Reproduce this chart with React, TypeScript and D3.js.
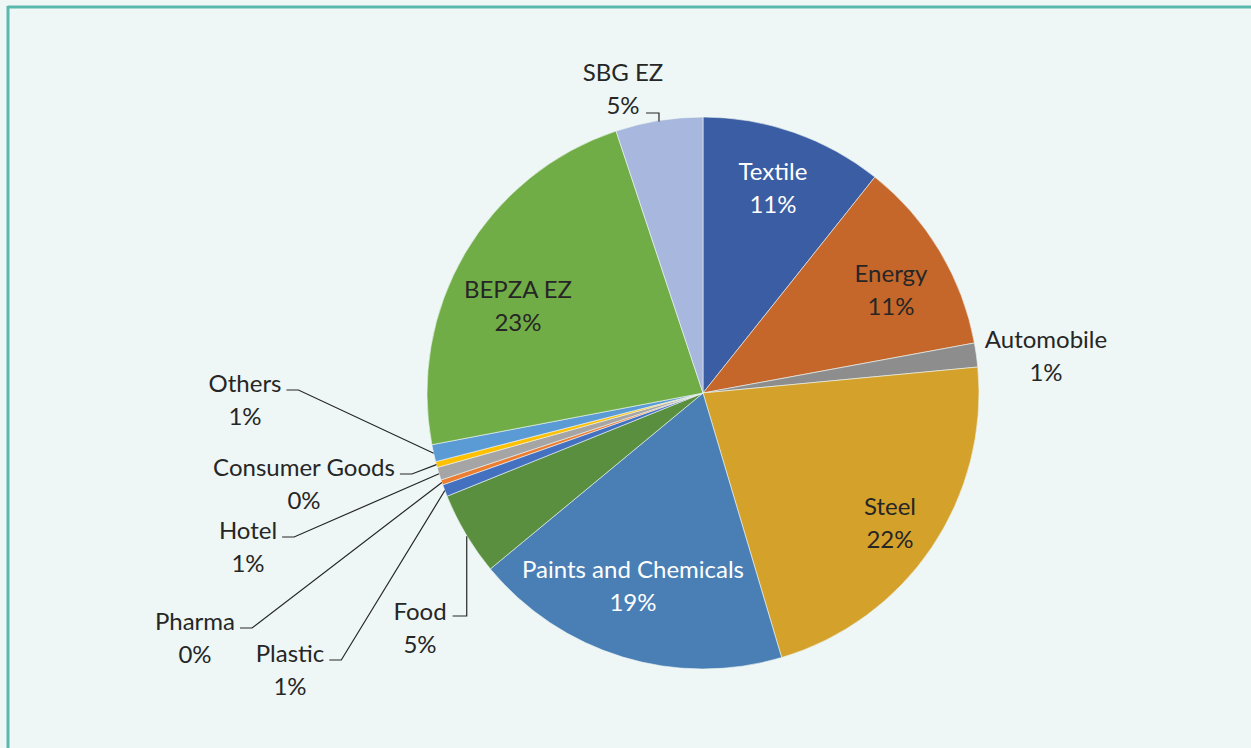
import { useEffect, useRef } from "react"
import * as d3 from "d3"

// sectors clockwise from 12 o'clock, shares (%)
const sectors = [
  "Textile",
  "Energy",
  "Automobile",
  "Steel",
  "Paints and Chemicals",
  "Food",
  "Plastic",
  "Pharma",
  "Hotel",
  "Consumer Goods",
  "Others",
  "BEPZA EZ",
  "SBG EZ",
]
const shares = [10.7, 11.4, 1.4, 21.9, 18.6, 4.9, 0.7, 0.3, 0.75, 0.35, 1.0, 22.9, 5.1]
const sliceColors = [
  "#3a5da3",
  "#c5662a",
  "#8d8d8d",
  "#d4a12b",
  "#4a7fb5",
  "#5a8f3f",
  "#4470c0",
  "#ed7d31",
  "#a5a5a5",
  "#ffc000",
  "#5b9bd5",
  "#71ad47",
  "#a8b7dd",
]

// label placement: inside labels sit on the slice, outside ones get a leader line
const labelPos: Record<string, { x: number; y: number; fill: string; leader?: "left" | "right" | "down" }> = {
  Textile: { x: 773, y: 171, fill: "#ffffff" },
  Energy: { x: 891, y: 273, fill: "#262626" },
  Automobile: { x: 1046, y: 339, fill: "#262626" },
  Steel: { x: 890, y: 506, fill: "#262626" },
  "Paints and Chemicals": { x: 633, y: 569, fill: "#ffffff" },
  Food: { x: 420, y: 611, fill: "#262626", leader: "down" },
  Plastic: { x: 290, y: 653, fill: "#262626", leader: "left" },
  Pharma: { x: 195, y: 621, fill: "#262626", leader: "left" },
  Hotel: { x: 248, y: 530, fill: "#262626", leader: "left" },
  "Consumer Goods": { x: 304, y: 467, fill: "#262626", leader: "left" },
  Others: { x: 245, y: 383, fill: "#262626", leader: "left" },
  "BEPZA EZ": { x: 518, y: 289, fill: "#262626" },
  "SBG EZ": { x: 623, y: 72, fill: "#262626", leader: "right" },
}

export default function App() {
  const svgRef = useRef<SVGSVGElement>(null)

  useEffect(() => {
    if (!svgRef.current) return
    const width = 1251
    const height = 748
    const svg = d3.select(svgRef.current)
    svg.selectAll("*").remove()
    svg.attr("width", width).attr("height", height)

    svg.append("rect").attr("width", width).attr("height", height).attr("fill", "#eef7f5")
    // frame (top + left edges)
    svg.append("line").attr("x1", 7.5).attr("x2", width).attr("y1", 7).attr("y2", 7)
      .attr("stroke", "#5ab9ae").attr("stroke-width", 3)
    svg.append("line").attr("x1", 8).attr("x2", 8).attr("y1", 6).attr("y2", height)
      .attr("stroke", "#5ab9ae").attr("stroke-width", 3)

    const cx = 703
    const cy = 393
    const radius = 276

    const data = sectors.map((s, i) => ({ name: s, value: shares[i], color: sliceColors[i] }))
    const total = d3.sum(data, (d) => d.value)

    const pie = d3.pie<{ name: string; value: number; color: string }>()
      .sort(null)
      .value((d) => d.value)
    const arc = d3.arc<d3.PieArcDatum<{ name: string; value: number; color: string }>>()
      .innerRadius(0)
      .outerRadius(radius)

    const g = svg.append("g").attr("transform", `translate(${cx},${cy})`)
    const arcs = pie(data)

    g.selectAll("path.slice")
      .data(arcs)
      .join("path")
      .attr("class", "slice")
      .attr("d", arc)
      .attr("fill", (d) => d.data.color)
      .attr("stroke", "#eef7f5")
      .attr("stroke-width", 0.6)

    const font = "Lato, 'Open Sans', sans-serif"

    arcs.forEach((a) => {
      const p = labelPos[a.data.name]
      const pct = Math.round((a.data.value / total) * 100) + "%"
      const t = svg.append("text")
        .attr("text-anchor", "middle")
        .attr("font-family", font)
        .attr("font-size", 24)
        .attr("fill", p.fill)
      t.append("tspan").attr("x", p.x).attr("y", p.y + 8.5).text(a.data.name)
      t.append("tspan").attr("x", p.x).attr("y", p.y + 41.5).text(pct)

      if (!p.leader) return
      const mid = (a.startAngle + a.endAngle) / 2
      const ex = cx + radius * Math.sin(mid)
      const ey = cy - radius * Math.cos(mid)
      const nameLen = (t.select("tspan").node() as SVGTSpanElement).getComputedTextLength()
      let pts: [number, number][] = []
      if (p.leader === "left") {
        const lx = p.x + nameLen / 2 + 5
        const ly = p.y + 7
        pts = [[lx, ly], [lx + 12, ly], [ex, ey]]
      } else if (p.leader === "down") {
        const lx = p.x + nameLen / 2 + 6
        const ly = p.y + 5
        const vx = cx + (radius - 1) * Math.sin(mid)
        pts = [[lx, ly], [vx, ly], [vx, ey + 2]]
      } else {
        const lx = p.x + 23
        const ly = p.y + 41
        pts = [[lx, ly], [ex, ly], [ex, ey + 1]]
      }
      svg.append("path")
        .attr("d", d3.line()(pts))
        .attr("fill", "none")
        .attr("stroke", "#262626")
        .attr("stroke-width", 1.2)
    })
  }, [])

  return (
    <svg ref={svgRef} style={{ position: "absolute", left: 0, top: 0, display: "block" }} />
  )
}
